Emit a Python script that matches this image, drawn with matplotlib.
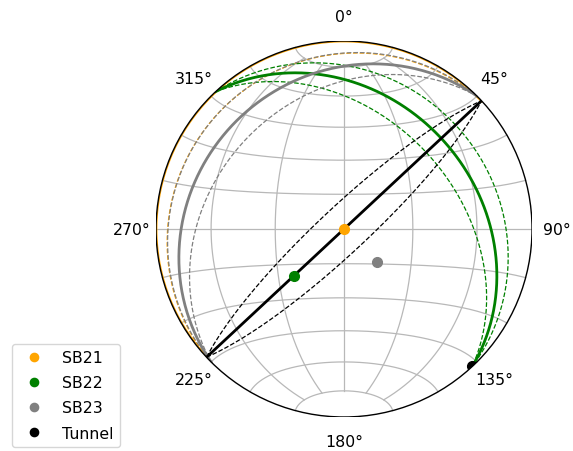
import numpy as np
import matplotlib
matplotlib.use('Agg')
import matplotlib.pyplot as plt
from matplotlib.patches import Circle

# planes (right hand rule strike / dip), dashed planes are dip +/- spread
names = ['SB21', 'SB22', 'SB23', 'Tunnel']
colours = ['orange', 'green', 'gray', 'black']
strikes = [227, 317, 225, 227]
dips = [0, 30, 20, 90]
spread = [10, 10, 10, 10]

azimuth_labels = [0, 45, 90, 135, 180, 225, 270, 315]
grid_lons = [-60, -30, 0, 30, 60]
grid_lats = [-75, -60, -45, -30, -15, 0, 15, 30, 45, 60, 75]


# lower hemisphere equal area (Schmidt) projection, primitive radius = 1
def proj(e, n, d):
    k = 1.0 / np.sqrt(1.0 + d)
    return e * k, n * k


def lonlat_xy(lon, lat):
    lon, lat = np.radians(lon), np.radians(lat)
    return proj(np.cos(lat) * np.sin(lon), np.sin(lat), np.cos(lat) * np.cos(lon))


def plane(strike, dip, segs=300):
    s = np.radians(strike)
    dd = np.radians(strike + 90)
    dp = np.radians(dip)
    if np.sin(dp) < 0:  # upper hemisphere, not drawn
        return None
    h = np.array([np.sin(s), np.cos(s), 0.0])
    v = np.array([np.cos(dp) * np.sin(dd), np.cos(dp) * np.cos(dd), np.sin(dp)])
    t = np.linspace(0, np.pi, segs)
    pts = np.outer(np.cos(t), h) + np.outer(np.sin(t), v)
    return proj(pts[:, 0], pts[:, 1], np.clip(pts[:, 2], 0, None))


def pole(strike, dip):
    tr = np.radians(strike - 90)
    pl = np.radians(90 - dip)
    return proj(np.cos(pl) * np.sin(tr), np.cos(pl) * np.cos(tr), np.sin(pl))


fig = plt.figure(figsize=(5.73, 4.52), dpi=100)
ax = fig.add_axes([0.2723, 0.0752, 0.6562, 0.8319])
ax.set_xlim(-1, 1)
ax.set_ylim(-1, 1)
ax.set_aspect('equal')
ax.axis('off')

prim = Circle((0, 0), 1, transform=ax.transData, fc='none', ec='black', lw=1.0, zorder=6)
ax.add_patch(prim)
clip = Circle((0, 0), 1, transform=ax.transData)

# net
gl = np.linspace(-75, 75, 200)
for lo in grid_lons:
    x, y = lonlat_xy(np.full_like(gl, lo), gl)
    ax.plot(x, y, color='#b8b8b8', lw=0.9, zorder=1)
gl = np.linspace(-90, 90, 200)
for la in grid_lats:
    x, y = lonlat_xy(gl, np.full_like(gl, la))
    ax.plot(x, y, color='#b8b8b8', lw=0.9, zorder=1)

for name, c, st, dp, sp in zip(names, colours, strikes, dips, spread):
    x, y = plane(st, dp)
    ln, = ax.plot(x, y, color=c, lw=2.0, zorder=3)
    ln.set_clip_path(clip)
    for d2 in (dp - sp, dp + sp):
        xy = plane(st, d2)
        if xy is None:
            continue
        ln, = ax.plot(xy[0], xy[1], color=c, lw=0.9, ls='--', zorder=2)
        ln.set_clip_path(clip)

handles = []
for name, c, st, dp in zip(names, colours, strikes, dips):
    x, y = pole(st, dp)
    h, = ax.plot([x], [y], 'o', color=c, ms=7, label=name, zorder=5)
    h.set_clip_path(clip)
    handles.append(h)

for az in azimuth_labels:
    a = np.radians(az)
    ax.text(1.13 * np.sin(a), 1.13 * np.cos(a), f'{az}\u00b0',
            ha='center', va='center', fontsize=11.3)

fig.legend(handles=handles, loc='lower left', bbox_to_anchor=(0.021, 0.009),
           bbox_transform=fig.transFigure, borderaxespad=0, fontsize=11.3,
           handlelength=2.0, labelspacing=0.65, markerscale=0.85)

fig.savefig('out.png', dpi=100)
